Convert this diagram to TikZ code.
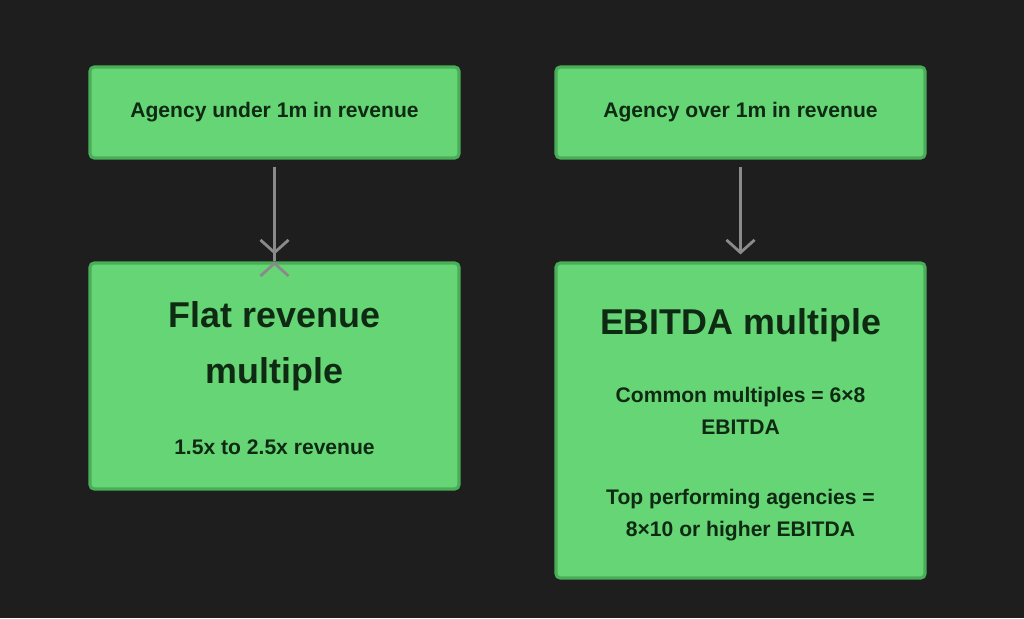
\documentclass[tikz,border=0pt]{standalone}
\usepackage{fontspec}
\setmainfont{Liberation Sans}
\usetikzlibrary{arrows.meta}
\definecolor{bgdark}{HTML}{1E1E1E}
\definecolor{boxgreen}{HTML}{66D575}
\definecolor{boxedge}{HTML}{4AAE58}
\definecolor{inkgreen}{HTML}{0F2A13}
\definecolor{arrowgray}{HTML}{8A8A8A}
\begin{document}
\begin{tikzpicture}[x=0.025cm, y=-0.025cm,
    box/.style={draw=boxedge, fill=boxgreen, line width=2.2pt, rounded corners=3pt,
                minimum width=369*0.025cm, inner sep=0pt},
    label/.style={text=inkgreen, font=\bfseries\fontsize{15}{23}\selectfont, align=center},
    title/.style={text=inkgreen, font=\bfseries\fontsize{25.5}{40}\selectfont, align=center},
    link/.style={draw=arrowgray, line width=2pt, -{Straight Barb[length=9pt, width=20pt, line width=2pt]}}]
    % fond
    \fill[bgdark] (0,0) rectangle (1024,618);

    % cases du haut
    \node[box, minimum height=91*0.025cm] (small) at (274.5,112.5) {};
    \node[box, minimum height=91*0.025cm] (large) at (740.5,112.5) {};
    \node[label] (smalltext) at (small.center) {Agency under 1m in revenue};
    \node[label] (largetext) at (large.center) {Agency over 1m in revenue};

    % cases du bas
    \node[box, minimum height=226*0.025cm] (flat) at (274.5,376) {};
    \node[box, minimum height=315*0.025cm] (ebitda) at (740.5,420.5) {};

    \node[title] (flattitle) at (274.5,346) {Flat revenue\\multiple};
    \node[label] (flatrange) at (274.5,447) {1.5x to 2.5x revenue};

    \node[title] (ebitdatitle) at (740.5,325) {EBITDA multiple};
    \node[label] (common) at (740.5,411) {Common multiples = 6×8\\EBITDA};
    \node[label] (top) at (740.5,515) {Top performing agencies =\\8×10 or higher EBITDA};

    % fleches
    \draw[link] (small.south) ++(0,7) coordinate (s1) -- (flat.north) ++(0,0);
    \draw[link] ([yshift=-7*0.025cm]small.south) -- ([yshift=7*0.025cm]flat.north);
    \draw[link] ([yshift=-7*0.025cm]large.south) -- ([yshift=7*0.025cm]ebitda.north);
\end{tikzpicture}
\end{document}
